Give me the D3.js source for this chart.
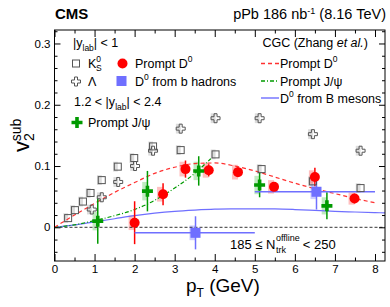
<!DOCTYPE html>
<html>
<head>
<meta charset="utf-8">
<script src="https://cdn.jsdelivr.net/npm/d3@7"></script>
<style>
  body { margin: 0; background: #fff; }
  text { font-family: "Liberation Sans", Arial, Helvetica, sans-serif; }
</style>
</head>
<body>
<script>
// K0S, |y_lab| < 1
const k0sPt = [0.34, 0.51, 0.71, 0.90, 1.18, 1.58, 1.99, 2.46, 3.15, 4.02, 5.17, 6.45, 7.64];
const k0sV2 = [0.015, 0.028, 0.042, 0.056, 0.077, 0.099, 0.113, 0.132, 0.126, 0.119, 0.095, 0.075, 0.064];
// Lambda, |y_lab| < 1
const lamPt = [0.93, 1.18, 1.59, 2.01, 2.46, 3.15, 4.02, 5.12, 6.45, 7.64];
const lamV2 = [0.029, 0.049, 0.074, 0.100, 0.125, 0.161, 0.178, 0.178, 0.152, 0.125];
// prompt D0
const dPt = [2.0, 2.71, 3.27, 3.85, 4.58, 5.48, 6.5, 7.49];
const dV2 = [0.0075, 0.054, 0.095, 0.093, 0.090, 0.066, 0.082, 0.047];
const dErr = [0.035, 0.018, 0.014, 0.010, 0.008, 0.008, 0.015, 0.008];
const dSys = [0.012, 0.012, 0.012, 0.012, 0.012, 0.011, 0.011, 0.010];
// D0 from b hadrons
const bPt = [3.52, 6.54];
const bV2 = [-0.009, 0.058];
const bLo = [2, 5];
const bHi = [5, 8];
const bErr = [0.027, 0.029];
const bSys = [0.012, 0.012];
// prompt J/psi, 1.2 < |y_lab| < 2.4
const jPt = [1.08, 2.32, 3.6, 5.12, 6.8];
const jV2 = [0.010, 0.059, 0.092, 0.069, 0.035];
const jErr = [0.037, 0.033, 0.024, 0.020, 0.022];
const jSys = [0.015, 0.015, 0.015, 0.015, 0.014];
// CGC (Zhang et al.)
const cgcDPt = [0, 0.5, 1, 1.5, 2, 2.5, 3, 3.5, 4, 4.5, 5, 5.5, 6, 6.5, 7, 7.5, 8];
const cgcDV2 = [0, 0.020, 0.039, 0.057, 0.073, 0.088, 0.098, 0.104, 0.105, 0.100, 0.092, 0.082, 0.072, 0.063, 0.055, 0.047, 0.040];
const cgcJPt = [0, 0.5, 1, 1.5, 2, 2.5, 3, 3.5, 3.9];
const cgcJV2 = [0, 0.004, 0.011, 0.019, 0.029, 0.044, 0.064, 0.088, 0.112];
const cgcBPt = [0, 0.5, 1, 1.5, 2, 2.5, 3, 3.5, 4, 4.5, 5, 5.5, 6, 6.5, 7, 7.5, 8, 8.25];
const cgcBV2 = [0, 0.004, 0.009, 0.014, 0.019, 0.023, 0.026, 0.028, 0.0295, 0.030, 0.0302, 0.030, 0.029, 0.0275, 0.026, 0.025, 0.024, 0.0235];

const xMajor = [0, 1, 2, 3, 4, 5, 6, 7, 8];
const xMinor = d3.range(0.5, 8.3, 1);
const yMajor = [0, 0.1, 0.2, 0.3];
const yMinor = d3.range(-0.04, 0.33, 0.02).filter(v => Math.abs(Math.round(v * 50) % 5) !== 0);

const red = '#ff0000', green = '#009a00', blue = '#6f6fff';

const width = 390, height = 307;
const x = d3.scaleLinear().domain([0, 8.25]).range([54.5, 385]);
const y = d3.scaleLinear().domain([-0.055, 0.322]).range([261, 30]);

const svg = d3.select('body').append('svg')
  .attr('width', width)
  .attr('height', height);

// 系统误差框
function boxes(pt, v2, sys, hw, fill) {
  svg.append('g').selectAll('rect')
    .data(pt)
    .join('rect')
    .attr('x', d => x(d - hw))
    .attr('width', x(hw) - x(0))
    .attr('y', (d, i) => y(v2[i] + sys[i]))
    .attr('height', (d, i) => y(v2[i] - sys[i]) - y(v2[i] + sys[i]))
    .attr('fill', fill);
}
boxes(k0sPt, k0sV2, k0sPt.map(() => 0.008), 0.12, '#dcdcdc');
boxes(lamPt, lamV2, lamPt.map(() => 0.008), 0.12, '#dcdcdc');
boxes(dPt, dV2, dSys, 0.15, 'rgba(255,0,0,0.25)');
boxes(jPt, jV2, jSys, 0.13, 'rgba(0,170,0,0.25)');
boxes(bPt, bV2, bSys, 0.15, 'rgba(90,90,255,0.3)');

// 零线
svg.append('line')
  .attr('x1', x(0)).attr('x2', x(8.25))
  .attr('y1', y(0)).attr('y2', y(0))
  .attr('stroke', '#000')
  .attr('stroke-width', 0.8)
  .attr('stroke-dasharray', '3,2');

// CGC 曲线
const line = d3.line().curve(d3.curveMonotoneX);
function curve(pt, v2, color, dash) {
  svg.append('path')
    .attr('d', line(pt.map((d, i) => [x(d), y(v2[i])])))
    .attr('fill', 'none')
    .attr('stroke', color)
    .attr('stroke-width', 1.2)
    .attr('stroke-dasharray', dash);
}
curve(cgcBPt, cgcBV2, blue, null);
curve(cgcJPt, cgcJV2, green, '4,2,1,2');
curve(cgcDPt, cgcDV2, '#ff3030', '4,3');

// 误差棒
function vbars(pt, v2, err, color) {
  svg.append('g').selectAll('line')
    .data(pt)
    .join('line')
    .attr('x1', d => x(d)).attr('x2', d => x(d))
    .attr('y1', (d, i) => y(v2[i] + err[i]))
    .attr('y2', (d, i) => y(v2[i] - err[i]))
    .attr('stroke', color)
    .attr('stroke-width', 1.5);
}
vbars(dPt, dV2, dErr, red);
vbars(jPt, jV2, jErr, green);
vbars(bPt, bV2, bErr, blue);
svg.append('g').selectAll('line')
  .data(bPt)
  .join('line')
  .attr('x1', (d, i) => x(bLo[i])).attr('x2', (d, i) => x(bHi[i]))
  .attr('y1', (d, i) => y(bV2[i])).attr('y2', (d, i) => y(bV2[i]))
  .attr('stroke', blue)
  .attr('stroke-width', 1.5);

// 标记
const crossPath = (s, w) => `M${-w},${-s}H${w}V${-w}H${s}V${w}H${w}V${s}H${-w}V${w}H${-s}V${-w}H${-w}Z`;

function openSquare(g, cx, cy) {
  g.append('rect')
    .attr('x', cx - 3.5).attr('y', cy - 3.5)
    .attr('width', 7).attr('height', 7)
    .attr('fill', 'none').attr('stroke', '#555').attr('stroke-width', 1);
}
function openCross(g, cx, cy) {
  g.append('path')
    .attr('transform', `translate(${cx},${cy})`)
    .attr('d', crossPath(4.5, 1.5))
    .attr('fill', 'none').attr('stroke', '#555').attr('stroke-width', 1);
}
function redCircle(g, cx, cy) {
  g.append('circle').attr('cx', cx).attr('cy', cy).attr('r', 5).attr('fill', red);
}
function blueSquare(g, cx, cy) {
  g.append('rect').attr('x', cx - 5).attr('y', cy - 5)
    .attr('width', 10).attr('height', 10).attr('fill', blue);
}
function greenCross(g, cx, cy) {
  g.append('path')
    .attr('transform', `translate(${cx},${cy})`)
    .attr('d', crossPath(5.5, 1.8))
    .attr('fill', green);
}

const marks = svg.append('g');
k0sPt.forEach((d, i) => openSquare(marks, x(d), y(k0sV2[i])));
lamPt.forEach((d, i) => openCross(marks, x(d), y(lamV2[i])));
dPt.forEach((d, i) => redCircle(marks, x(d), y(dV2[i])));
bPt.forEach((d, i) => blueSquare(marks, x(d), y(bV2[i])));
jPt.forEach((d, i) => greenCross(marks, x(d), y(jV2[i])));

// 坐标轴
function axis(gen, tr, vals, size, fmt) {
  const g = svg.append('g')
    .attr('transform', tr)
    .call(gen.tickValues(vals).tickSize(size).tickPadding(fmt ? 4 : 0).tickFormat(fmt || ''));
  g.select('.domain').remove();
  g.selectAll('line').attr('stroke', '#000');
  g.selectAll('text').style('font-size', '11.5px').attr('fill', '#000');
  return g;
}
const fmtY = d => d === 0 ? '0' : d.toFixed(1);
axis(d3.axisBottom(x), `translate(0,${y(-0.055)})`, xMajor, -7, d => d);
axis(d3.axisBottom(x), `translate(0,${y(-0.055)})`, xMinor, -3.5);
axis(d3.axisTop(x), `translate(0,${y(0.322)})`, xMajor, -7);
axis(d3.axisTop(x), `translate(0,${y(0.322)})`, xMinor, -3.5);
axis(d3.axisLeft(y), `translate(${x(0)},0)`, yMajor, -6, fmtY);
axis(d3.axisLeft(y), `translate(${x(0)},0)`, yMinor, -3);
axis(d3.axisRight(y), `translate(${x(8.25)},0)`, yMajor, -6);
axis(d3.axisRight(y), `translate(${x(8.25)},0)`, yMinor, -3);

svg.append('rect')
  .attr('x', x(0)).attr('y', y(0.322))
  .attr('width', x(8.25) - x(0)).attr('height', y(-0.055) - y(0.322))
  .attr('fill', 'none').attr('stroke', '#000').attr('stroke-width', 1);

// 文字
function txt(xp, yp, size, anchor) {
  return svg.append('text')
    .attr('x', xp).attr('y', yp)
    .attr('text-anchor', anchor || 'start')
    .style('font-size', size + 'px');
}
function sub(t, s, dy) { t.append('tspan').attr('dy', dy).style('font-size', '8.5px').text(s); }

txt(55, 19, 15).style('font-weight', 'bold').text('CMS');
{
  const t = txt(386, 19, 14.5, 'end');
  t.append('tspan').text('pPb 186 nb');
  t.append('tspan').attr('dy', -5).style('font-size', '9px').text('-1');
  t.append('tspan').attr('dy', 5).text(' (8.16 TeV)');
}

// 坐标标题
{
  const t = txt(186, 292, 19);
  t.append('tspan').text('p');
  t.append('tspan').attr('dy', 5).style('font-size', '12px').text('T');
  t.append('tspan').attr('dy', -5).text(' (GeV)');
}
{
  const t = svg.append('text')
    .attr('transform', 'translate(29,152) rotate(-90)')
    .style('font-size', '22px');
  t.append('tspan').text('v');
  t.append('tspan').attr('dy', 5).style('font-size', '14px').text('2');
  t.append('tspan').attr('dx', -8).attr('dy', -13).style('font-size', '14px').text('sub');
}

// 左侧图例
{
  const t = txt(73, 47, 12.5);
  t.append('tspan').text('|y');
  sub(t, 'lab', 4);
  t.append('tspan').attr('dy', -4).text('| < 1');
}
openSquare(svg, 76, 63.5);
{
  const t = txt(88, 68, 12.5);
  t.append('tspan').text('K');
  t.append('tspan').attr('dy', -6).style('font-size', '8.5px').text('0');
  t.append('tspan').attr('dx', -5).attr('dy', 9).style('font-size', '8.5px').text('S');
}
redCircle(svg, 122.5, 63.5);
{
  const t = txt(135, 68, 12.5);
  t.append('tspan').text('Prompt D');
  t.append('tspan').attr('dy', -6).style('font-size', '8.5px').text('0');
}
openCross(svg, 76, 81.5);
txt(88, 86, 12.5).text('Λ');
blueSquare(svg, 121.5, 81);
{
  const t = txt(135, 86, 12.5);
  t.append('tspan').text('D');
  t.append('tspan').attr('dy', -6).style('font-size', '8.5px').text('0');
  t.append('tspan').attr('dy', 6).text(' from b hadrons');
}
{
  const t = txt(74, 106, 12.5);
  t.append('tspan').text('1.2 < |y');
  sub(t, 'lab', 4);
  t.append('tspan').attr('dy', -4).text('| < 2.4');
}
greenCross(svg, 77, 122.5);
txt(88, 127, 12.5).text('Prompt J/ψ');

// 右侧图例
{
  const t = txt(368, 47, 12.5, 'end');
  t.append('tspan').text('CGC (Zhang ');
  t.append('tspan').style('font-style', 'italic').text('et al.');
  t.append('tspan').text(')');
}
const legLines = [
  {yy: 63.5, color: '#ff3030', dash: '4,3', label: 'Prompt D', sup: '0', rest: ''},
  {yy: 81, color: green, dash: '4,2,1,2', label: 'Prompt J/ψ', sup: '', rest: ''},
  {yy: 98, color: blue, dash: null, label: 'D', sup: '0', rest: ' from B mesons'}
];
legLines.forEach(l => {
  svg.append('line')
    .attr('x1', 261).attr('x2', 279).attr('y1', l.yy).attr('y2', l.yy)
    .attr('stroke', l.color).attr('stroke-width', 1.4).attr('stroke-dasharray', l.dash);
  const t = txt(280, l.yy + 4.5, 12.5);
  t.append('tspan').text(l.label);
  if (l.sup) t.append('tspan').attr('dy', -6).style('font-size', '8.5px').text(l.sup);
  if (l.rest) t.append('tspan').attr('dy', 6).text(l.rest);
});

// 多重数区间
{
  const t1 = txt(230, 249, 13).text('185 ≤ N');
  const nx = 230 + t1.node().getComputedTextLength() + 0.5;
  const sup = txt(nx, 241, 9).text('offline');
  txt(nx, 253, 9).text('trk');
  txt(nx + sup.node().getComputedTextLength() + 3, 249, 13).text('< 250');
}
</script>
</body>
</html>
